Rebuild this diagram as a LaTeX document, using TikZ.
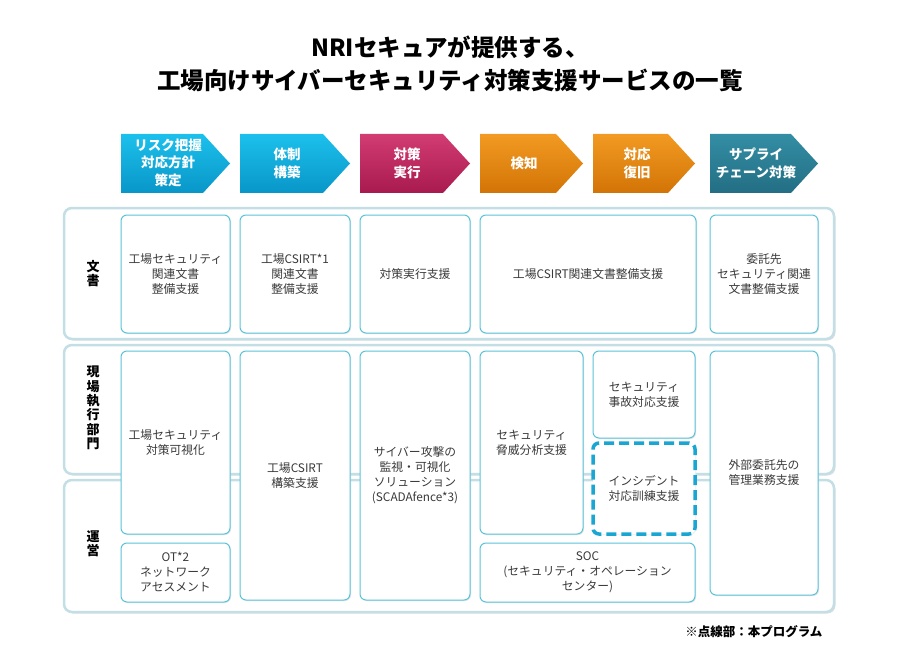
\documentclass[tikz,border=0pt]{standalone}
\usepackage{fontspec}
\setmainfont{Noto Sans CJK JP}
\usetikzlibrary{shadows}
\definecolor{cyantop}{HTML}{1CC0EC}
\definecolor{cyanbot}{HTML}{0896C8}
\definecolor{magtop}{HTML}{D23C72}
\definecolor{magbot}{HTML}{A81A4E}
\definecolor{orgtop}{HTML}{F29A22}
\definecolor{orgbot}{HTML}{D27406}
\definecolor{tealtop}{HTML}{338EA4}
\definecolor{tealbot}{HTML}{236E84}
\definecolor{bandline}{HTML}{C4DEE5}
\definecolor{cellline}{HTML}{5CC2DA}
\definecolor{dashline}{HTML}{1AA6D2}
\definecolor{celltext}{HTML}{3A3A3A}
\begin{document}
\begin{tikzpicture}[x=1pt,y=-1pt]

    \tikzset{
      band/.style={
        draw=bandline,
        line width=2.5pt,
        fill=white,
        rounded corners=8pt,
        inner sep=0pt,
        drop shadow={shadow xshift=1.5pt, shadow yshift=-1.5pt, fill=black!25},
      },
      cell/.style={
        draw=cellline,
        line width=1pt,
        fill=white,
        rounded corners=6pt,
        inner sep=0pt,
        align=center,
        text=celltext,
        font=\fontsize{11.8}{15}\selectfont,
        drop shadow={shadow xshift=1pt, shadow yshift=-1pt, fill=black!20},
      },
      dashcell/.style={
        cell,
        draw=dashline,
        line width=3.5pt,
        dash pattern=on 10pt off 5pt,
        drop shadow={shadow xshift=1pt, shadow yshift=-1pt, fill=black!0},
      },
      head/.style={
        text=white,
        align=center,
        font=\bfseries\fontsize{13.5}{17.5}\selectfont,
      },
      rowlabel/.style={
        align=center,
        font=\bfseries\fontsize{13}{14.4}\selectfont,
      },
    }
    \useasboundingbox (0,0) rectangle (900,650);

	\node [align=center, font=\bfseries\fontsize{23.5}{33}\selectfont] (title) at (450,63.5) {NRIセキュアが提供する、\\工場向けサイバーセキュリティ対策支援サービスの一覧};

	\shade[top color=cyantop, bottom color=cyanbot] (121,134)--(203,134)--(230,163.5)--(203,193)--(121,193)--cycle;
	\shade[top color=cyantop, bottom color=cyanbot] (240,134)--(323,134)--(350,163.5)--(323,193)--(240,193)--cycle;
	\shade[top color=magtop, bottom color=magbot] (360,134)--(443,134)--(470,163.5)--(443,193)--(360,193)--cycle;
	\shade[top color=orgtop, bottom color=orgbot] (480,134)--(556,134)--(583,163.5)--(556,193)--(480,193)--cycle;
	\shade[top color=orgtop, bottom color=orgbot] (593,134)--(668,134)--(695,163.5)--(668,193)--(593,193)--cycle;
	\shade[top color=tealtop, bottom color=tealbot] (710,134)--(791,134)--(818,163.5)--(791,193)--(710,193)--cycle;

	\node [head] (risk) at (168,162.5) {リスク把握\\対応方針\\策定};
	\node [head] (setup) at (287,163.5) {体制\\構築};
	\node [head] (exec) at (407,163.5) {対策\\実行};
	\node [head] (detect) at (524,163.5) {検知};
	\node [head] (recover) at (637,163.5) {対応\\復旧};
	\node [head] (supply) at (756,163.5) {サプライ\\チェーン対策};

	\node [band, minimum width=770, minimum height=131] (docband) at (449,273.5) {};
	\node [band, minimum width=770, minimum height=129] (siteband) at (449,409.5) {};
	\node [band, minimum width=770, minimum height=132] (opsband) at (449,546) {};

	\node [rowlabel] (doclabel) at (93,273.5) {文\\書};
	\node [rowlabel] (sitelabel) at (93,408) {現\\場\\執\\行\\部\\門};
	\node [rowlabel] (opslabel) at (93,544) {運\\営};

	\node [cell, minimum width=109, minimum height=118] (docfactory) at (175.5,274) {工場セキュリティ\\関連文書\\整備支援};
	\node [cell, minimum width=110, minimum height=118] (doccsirt) at (295,274) {工場CSIRT*1\\関連文書\\整備支援};
	\node [cell, minimum width=110, minimum height=118] (docexec) at (415,274) {対策実行支援};
	\node [cell, minimum width=216, minimum height=118] (docdetect) at (588,274) {工場CSIRT関連文書整備支援};
	\node [cell, minimum width=108, minimum height=118] (docsupply) at (764,274) {委託先\\セキュリティ関連\\文書整備支援};

	\node [cell, minimum width=109, minimum height=183] (visual) at (175.5,442.5) {工場セキュリティ\\対策可視化};
	\node [cell, minimum width=109, minimum height=59] (otnet) at (175.5,572.5) {OT*2\\ネットワーク\\アセスメント};
	\node [cell, minimum width=110, minimum height=249] (csirt) at (295,475.5) {工場CSIRT\\構築支援};
	\node [cell, minimum width=110, minimum height=249] (monitor) at (415,475.5) {サイバー攻撃の\\監視・可視化\\ソリューション\\(SCADAfence*3)};
	\node [cell, minimum width=103, minimum height=183] (threat) at (531.5,442.5) {セキュリティ\\脅威分析支援};
	\node [cell, minimum width=102, minimum height=87] (accident) at (644,394.5) {セキュリティ\\事故対応支援};
	\node [dashcell, minimum width=102, minimum height=91] (drill) at (644,488.5) {インシデント\\対応訓練支援};
	\node [cell, minimum width=215, minimum height=59] (soc) at (587.5,572.5) {SOC\\(セキュリティ・オペレーション\\センター)};
	\node [cell, minimum width=108, minimum height=244] (outsource) at (764,473) {外部委託先の\\管理業務支援};

	\node [anchor=east, font=\bfseries\fontsize{12.5}{14}\selectfont] (note) at (826,632) {※点線部：本プログラム};

\end{tikzpicture}
\end{document}
